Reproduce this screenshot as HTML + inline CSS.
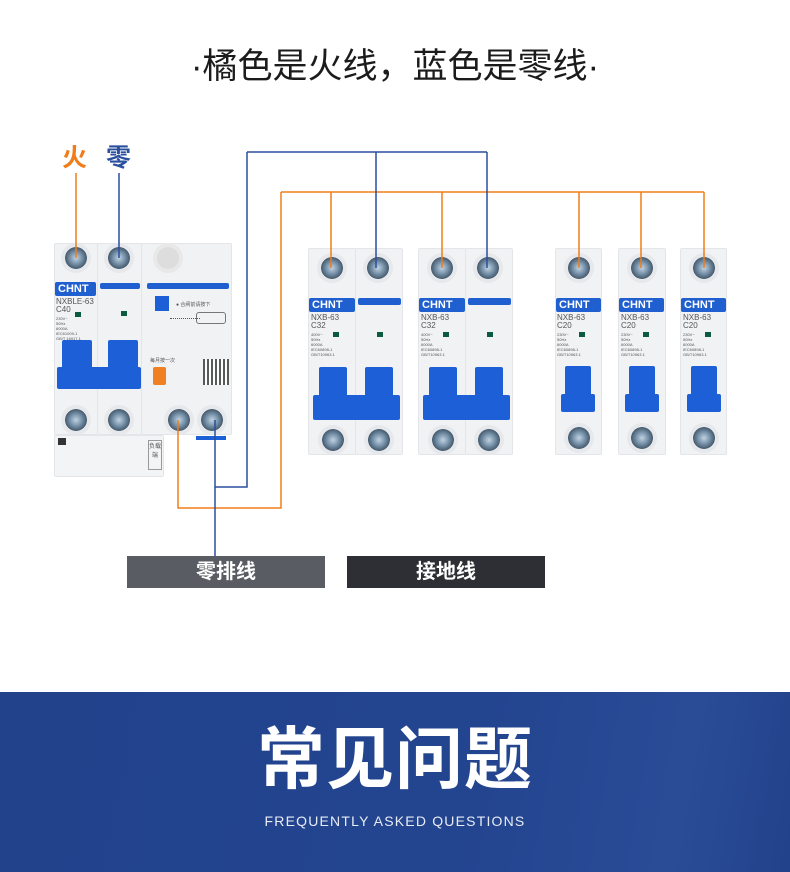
<!DOCTYPE html>
<html><head><meta charset="utf-8"><style>
*{margin:0;padding:0;box-sizing:border-box}
body{width:790px;height:872px;background:#fff;position:relative;overflow:hidden;font-family:"Liberation Sans","Noto Sans CJK SC",sans-serif}
.a{position:absolute}
.m{position:absolute;background:#f1f2f4;border:1px solid #e3e5e9;border-radius:2px}
.s{position:absolute;width:22px;height:22px;border-radius:50%;background:radial-gradient(circle,#c2d2e0 0,#7d98b0 35%,#44596c 70%,#cfd5db 72%,#eef0f2 100%);box-shadow:0 0 0 4px #e6e8eb}
.h{position:absolute;height:14px;background:#1f5fcf;color:#fff;font-weight:bold;font-size:11px;line-height:14px;padding-left:3px;border-radius:2px}
.t{position:absolute;background:#1d5fd6;border-radius:2px}
.tx{position:absolute;font-size:7px;color:#555;line-height:8px;white-space:pre}
.g{position:absolute;width:6px;height:5px;background:#0b5b3e}
</style></head><body>
<div class="a" style="left:0;top:47px;width:790px;text-align:center;font-size:35px;color:#1b1b1b;line-height:40px">·橘色是火线，蓝色是零线·</div>
<div class="a" style="left:62px;top:138px;font-size:25px;font-weight:bold;color:#f07d1a">火</div>
<div class="a" style="left:106px;top:138px;font-size:25px;font-weight:bold;color:#2a4f9e">零</div>

<!-- RCBO -->
<div class="m" style="left:54px;top:243px;width:44px;height:192px"></div>
<div class="m" style="left:97px;top:243px;width:45px;height:192px"></div>
<div class="m" style="left:141px;top:243px;width:91px;height:192px"></div>
<div class="m" style="left:54px;top:435px;width:110px;height:42px;background:#f3f4f5"></div>
<div class="a" style="left:58px;top:438px;width:8px;height:7px;background:#333"></div>
<div class="a" style="left:148px;top:440px;width:14px;height:30px;border:1px solid #999;font-size:6px;color:#555;text-align:center">负载端</div>
<div class="a" style="left:196px;top:436px;width:30px;height:4px;background:#1d5fd6"></div>
<div class="s" style="left:65px;top:247px"></div>
<div class="s" style="left:108px;top:247px"></div>
<div class="a" style="left:157px;top:247px;width:22px;height:22px;border-radius:50%;background:#ddd;box-shadow:0 0 0 4px #e8e8e8"></div>
<div class="h" style="left:55px;top:282px;width:41px">CHNT</div>
<div class="h" style="left:100px;top:283px;width:40px;height:6px"></div>
<div class="h" style="left:147px;top:283px;width:82px;height:6px"></div>
<div class="tx" style="left:56px;top:298px;font-size:8px">NXBLE-63
C40</div>
<div class="tx" style="left:56px;top:316px;font-size:4px;line-height:5px">230V~
50Hz
6000A
IEC61009-1
GB/T 16917.1</div>
<div class="g" style="left:75px;top:312px"></div><div class="g" style="left:121px;top:311px"></div>
<div class="a" style="left:155px;top:296px;width:14px;height:15px;background:#1d5fd6"></div>
<div class="tx" style="left:176px;top:301px;font-size:5px">● 合闸前请按下</div>
<div class="a" style="left:170px;top:318px;width:30px;border-top:1px dotted #555"></div>
<div class="a" style="left:196px;top:312px;width:30px;height:12px;border:1px solid #777;border-radius:3px"></div>
<div class="a" style="left:203px;top:359px;width:26px;height:26px;background:repeating-linear-gradient(90deg,#333 0 2px,#fff 2px 4px),#333;opacity:.8"></div>
<div class="a" style="left:153px;top:367px;width:13px;height:18px;background:#f08122;border-radius:2px"></div>
<div class="tx" style="left:150px;top:357px;font-size:5px">每月按一次</div>
<div class="t" style="left:62px;top:340px;width:30px;height:40px"></div>
<div class="t" style="left:108px;top:340px;width:30px;height:40px"></div>
<div class="t" style="left:57px;top:367px;width:84px;height:22px"></div>
<div class="s" style="left:65px;top:409px"></div>
<div class="s" style="left:108px;top:409px"></div>
<div class="s" style="left:168px;top:409px"></div>
<div class="s" style="left:201px;top:409px"></div>

<!-- 2P breakers -->
<div class="m" style="left:308px;top:248px;width:48px;height:207px"></div>
<div class="m" style="left:355px;top:248px;width:48px;height:207px"></div>
<div class="s" style="left:321px;top:257px"></div><div class="s" style="left:367px;top:257px"></div>
<div class="h" style="left:309px;top:298px;width:46px">CHNT</div>
<div class="h" style="left:358px;top:298px;width:43px;height:7px"></div>
<div class="tx" style="left:311px;top:314px;font-size:8px">NXB-63
C32</div>
<div class="tx" style="left:311px;top:332px;font-size:4px;line-height:5px">400V~
50Hz
6000A
IEC60898-1
GB/T10963.1</div>
<div class="g" style="left:333px;top:332px"></div><div class="g" style="left:377px;top:332px"></div>
<div class="t" style="left:319px;top:367px;width:28px;height:32px"></div>
<div class="t" style="left:365px;top:367px;width:28px;height:32px"></div>
<div class="t" style="left:313px;top:395px;width:87px;height:25px"></div>
<div class="s" style="left:322px;top:429px"></div><div class="s" style="left:368px;top:429px"></div>

<div class="m" style="left:418px;top:248px;width:48px;height:207px"></div>
<div class="m" style="left:465px;top:248px;width:48px;height:207px"></div>
<div class="s" style="left:431px;top:257px"></div><div class="s" style="left:477px;top:257px"></div>
<div class="h" style="left:419px;top:298px;width:46px">CHNT</div>
<div class="h" style="left:468px;top:298px;width:43px;height:7px"></div>
<div class="tx" style="left:421px;top:314px;font-size:8px">NXB-63
C32</div>
<div class="tx" style="left:421px;top:332px;font-size:4px;line-height:5px">400V~
50Hz
6000A
IEC60898-1
GB/T10963.1</div>
<div class="g" style="left:443px;top:332px"></div><div class="g" style="left:487px;top:332px"></div>
<div class="t" style="left:429px;top:367px;width:28px;height:32px"></div>
<div class="t" style="left:475px;top:367px;width:28px;height:32px"></div>
<div class="t" style="left:423px;top:395px;width:87px;height:25px"></div>
<div class="s" style="left:432px;top:429px"></div><div class="s" style="left:478px;top:429px"></div>

<!-- 1P breakers -->
<div class="m" style="left:555px;top:248px;width:47px;height:207px"></div>
<div class="s" style="left:568px;top:257px"></div>
<div class="h" style="left:556px;top:298px;width:45px">CHNT</div>
<div class="tx" style="left:557px;top:314px;font-size:8px">NXB-63
C20</div>
<div class="tx" style="left:557px;top:332px;font-size:4px;line-height:5px">230V~
50Hz
6000A
IEC60898-1
GB/T10963.1</div>
<div class="g" style="left:579px;top:332px"></div>
<div class="t" style="left:565px;top:366px;width:26px;height:34px"></div>
<div class="t" style="left:561px;top:394px;width:34px;height:18px"></div>
<div class="s" style="left:568px;top:427px"></div>

<div class="m" style="left:618px;top:248px;width:48px;height:207px"></div>
<div class="s" style="left:631px;top:257px"></div>
<div class="h" style="left:619px;top:298px;width:45px">CHNT</div>
<div class="tx" style="left:621px;top:314px;font-size:8px">NXB-63
C20</div>
<div class="tx" style="left:621px;top:332px;font-size:4px;line-height:5px">230V~
50Hz
6000A
IEC60898-1
GB/T10963.1</div>
<div class="g" style="left:643px;top:332px"></div>
<div class="t" style="left:629px;top:366px;width:26px;height:34px"></div>
<div class="t" style="left:625px;top:394px;width:34px;height:18px"></div>
<div class="s" style="left:631px;top:427px"></div>

<div class="m" style="left:680px;top:248px;width:47px;height:207px"></div>
<div class="s" style="left:693px;top:257px"></div>
<div class="h" style="left:681px;top:298px;width:45px">CHNT</div>
<div class="tx" style="left:683px;top:314px;font-size:8px">NXB-63
C20</div>
<div class="tx" style="left:683px;top:332px;font-size:4px;line-height:5px">230V~
50Hz
6000A
IEC60898-1
GB/T10963.1</div>
<div class="g" style="left:705px;top:332px"></div>
<div class="t" style="left:691px;top:366px;width:26px;height:34px"></div>
<div class="t" style="left:687px;top:394px;width:34px;height:18px"></div>
<div class="s" style="left:693px;top:427px"></div>

<svg class="a" style="left:0;top:0" width="790" height="620">
<g fill="none" stroke-width="1.5">
<path d="M76 173V258 M331 192V268 M442 192V268 M579 192V268 M641 192V268 M704 192V268 M281 192H704 M281 192V508H178V420" stroke="#f07d1a"/>
<path d="M119 173V258 M376 152V268 M487 152V268 M247 152H487 M247 152V487H215 M215 420V556" stroke="#2a4f9e"/>
</g></svg>

<div class="a" style="left:127px;top:556px;width:198px;height:32px;background:#5a5c63;color:#fff;font-size:20px;font-weight:bold;text-align:center;line-height:32px">零排线</div>
<div class="a" style="left:347px;top:556px;width:198px;height:32px;background:#2e2f35;color:#fff;font-size:20px;font-weight:bold;text-align:center;line-height:32px">接地线</div>

<div class="a" style="left:0;top:692px;width:790px;height:180px;background:linear-gradient(100deg,#22428c 0%,#23448f 60%,#2a4c97 85%,#22428b 100%)"></div>
<div class="a" style="left:0;top:718px;width:790px;text-align:center;color:#fff;font-size:68px;font-weight:bold;line-height:84px;letter-spacing:1px">常见问题</div>
<div class="a" style="left:0;top:812px;width:790px;text-align:center;color:#e8ecf5;font-size:14px;letter-spacing:1.2px;line-height:18px">FREQUENTLY ASKED QUESTIONS</div>
</body></html>
